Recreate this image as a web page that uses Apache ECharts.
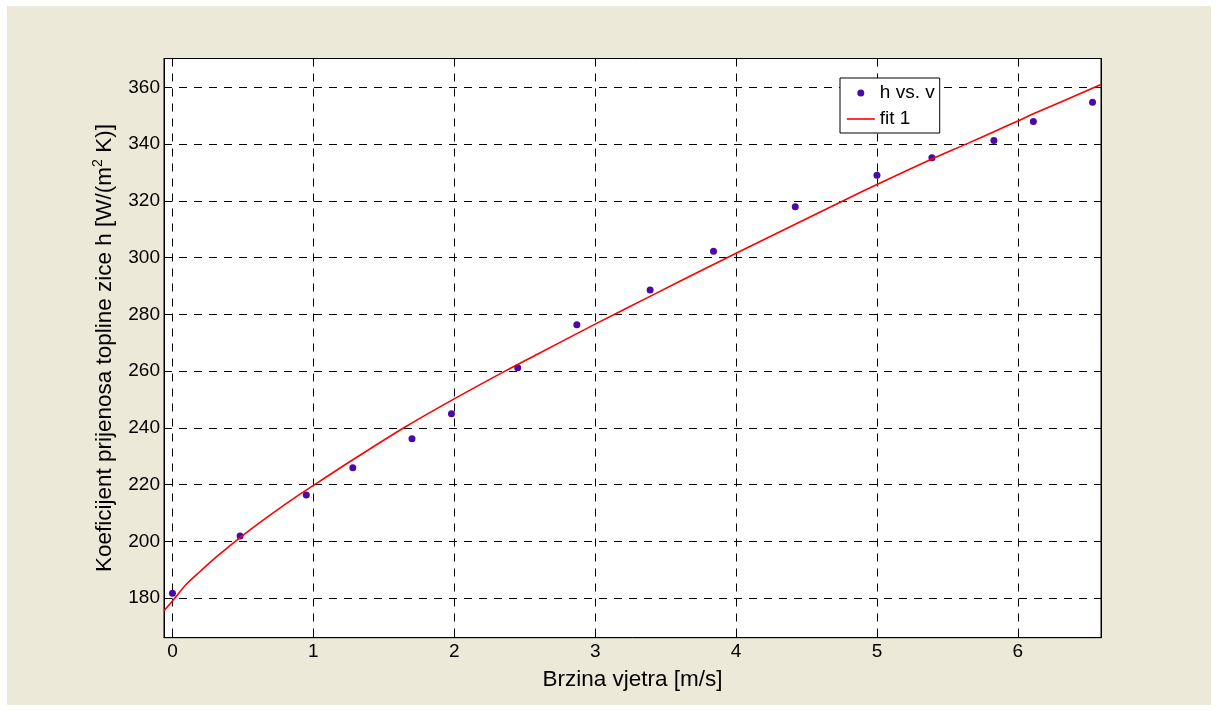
<!DOCTYPE html>
<html>
<head>
<meta charset="utf-8">
<script src="https://cdn.jsdelivr.net/npm/echarts@6/dist/echarts.min.js"></script>
<style>
  html, body { margin: 0; padding: 0; background: #ffffff; width: 1217px; height: 711px; overflow: hidden; }
  #frame { position: absolute; left: 7px; top: 6px; width: 1204px; height: 699px; background: #ECE9D8; }
  #chart { width: 1204px; height: 699px; }
</style>
</head>
<body>
<div id="frame"><div id="chart"></div></div>
<script>
// Measured data (h vs. v)
const vData = [0.00, 0.48, 0.95, 1.28, 1.70, 1.98, 2.45, 2.87, 3.39, 3.84, 4.42, 5.00, 5.39, 5.83, 6.11, 6.53];
const hData = [181.8, 201.9, 216.4, 226.0, 236.2, 245.0, 261.2, 276.4, 288.6, 302.3, 318.0, 329.1, 335.2, 341.3, 348.0, 354.8];

// Fit curve (fit 1)
const fitV = [-0.06, 0.00, 0.10, 0.20, 0.32, 0.48, 0.69, 0.90, 1.10, 1.28, 1.66, 1.99, 2.37, 2.59, 3.00, 3.41, 3.75, 4.00, 4.42, 4.79, 5.00, 5.39, 5.64, 5.83, 6.00, 6.11, 6.59];
const fitH = [175.6, 179.0, 185.0, 189.6, 194.9, 201.4, 209.2, 216.5, 223.0, 228.8, 240.6, 250.0, 260.3, 266.0, 276.6, 286.9, 295.4, 301.6, 311.8, 320.8, 325.8, 334.8, 340.2, 344.4, 348.2, 350.7, 361.0];

// Axis ticks
const xTicks = [0, 1, 2, 3, 4, 5, 6];
const yTicks = [180, 200, 220, 240, 260, 280, 300, 320, 340, 360];
const xRange = [-0.06, 6.59];
const yRange = [166.1, 370.2];

const FONT = "'Liberation Sans', Arial, Helvetica, sans-serif";

const chart = echarts.init(document.getElementById('chart'), null, { renderer: 'canvas' });

const scatterData = vData.map((v, i) => [v, hData[i]]);
const fitData = fitV.map((v, i) => [v, fitH[i]]);

const dashStyle = { color: '#000', width: 1, type: [8, 7] };

const option = {
  animation: false,
  backgroundColor: 'transparent',
  textStyle: { fontFamily: FONT, color: '#000' },
  grid: {
    left: 157, top: 52.5, width: 937, height: 579.2,
    show: true, backgroundColor: '#ffffff', borderColor: '#000', borderWidth: 1,
    containLabel: false, outerBoundsMode: 'none'
  },
  legend: {
    orient: 'vertical',
    left: 833, top: 72,
    padding: [5, 5, 4, 6],
    itemWidth: 28, itemHeight: 7, itemGap: 6,
    backgroundColor: '#ffffff', borderColor: '#000', borderWidth: 1, borderRadius: 0,
    textStyle: { fontFamily: FONT, fontSize: 19, color: '#000', lineHeight: 20 },
    data: [
      { name: 'h vs. v', icon: 'circle' },
      { name: 'fit 1', itemStyle: { opacity: 0, color: 'transparent', borderWidth: 0 }, lineStyle: { color: '#FF0000', width: 1.6, opacity: 1 } }
    ],
    selectedMode: false
  },
  xAxis: [
    {
      type: 'value', position: 'bottom', min: xRange[0], max: xRange[1],
      name: 'Brzina vjetra [m/s]', nameLocation: 'middle', nameGap: 25,
      nameTextStyle: { fontFamily: FONT, fontSize: 22.5, color: '#000', lineHeight: 26 },
      axisLine: { show: true, onZero: false, lineStyle: { color: '#000', width: 1 } },
      axisTick: { show: true, inside: true, length: 6, customValues: xTicks, lineStyle: { color: '#000' } },
      axisLabel: { show: true, margin: 5, customValues: xTicks, fontFamily: FONT, fontSize: 19, lineHeight: 19, color: '#000' },
      splitLine: { show: true, lineStyle: dashStyle }
    },
    {
      type: 'value', position: 'top', min: xRange[0], max: xRange[1],
      axisLine: { show: true, onZero: false, lineStyle: { color: '#000', width: 1 } },
      axisTick: { show: true, inside: true, length: 6, customValues: xTicks, lineStyle: { color: '#000' } },
      axisLabel: { show: false },
      splitLine: { show: false }
    }
  ],
  yAxis: [
    {
      type: 'value', position: 'left', min: yRange[0], max: yRange[1],
      name: 'Koeficijent prijenosa topline zice h [W/(m{sup|2} K)]',
      nameLocation: 'middle', nameGap: 39,
      nameTextStyle: {
        fontFamily: FONT, fontSize: 22.5, color: '#000', lineHeight: 26,
        rich: { sup: { fontFamily: FONT, fontSize: 14, color: '#000', verticalAlign: 'top', lineHeight: 14 } }
      },
      axisLine: { show: true, onZero: false, lineStyle: { color: '#000', width: 1 } },
      axisTick: { show: true, inside: true, length: 6, customValues: yTicks, lineStyle: { color: '#000' } },
      axisLabel: { show: true, margin: 4, customValues: yTicks, fontFamily: FONT, fontSize: 19, color: '#000' },
      splitLine: { show: true, lineStyle: dashStyle }
    },
    {
      type: 'value', position: 'right', min: yRange[0], max: yRange[1],
      axisLine: { show: true, onZero: false, lineStyle: { color: '#000', width: 1 } },
      axisTick: { show: true, inside: true, length: 6, customValues: yTicks, lineStyle: { color: '#000' } },
      axisLabel: { show: false },
      splitLine: { show: false }
    }
  ],
  series: [
    {
      name: 'h vs. v', type: 'scatter', xAxisIndex: 0, yAxisIndex: 0,
      symbol: 'circle', symbolSize: 7, z: 2,
      itemStyle: { color: '#4B0AA8', opacity: 1 },
      data: scatterData
    },
    {
      name: 'fit 1', type: 'line', xAxisIndex: 0, yAxisIndex: 0,
      symbol: 'none', showSymbol: false, smooth: 0.3, z: 3,
      lineStyle: { color: '#FF0000', width: 1.6 },
      itemStyle: { color: '#FF0000' },
      clip: true,
      data: fitData
    }
  ]
};

chart.setOption(option);
</script>
</body>
</html>
